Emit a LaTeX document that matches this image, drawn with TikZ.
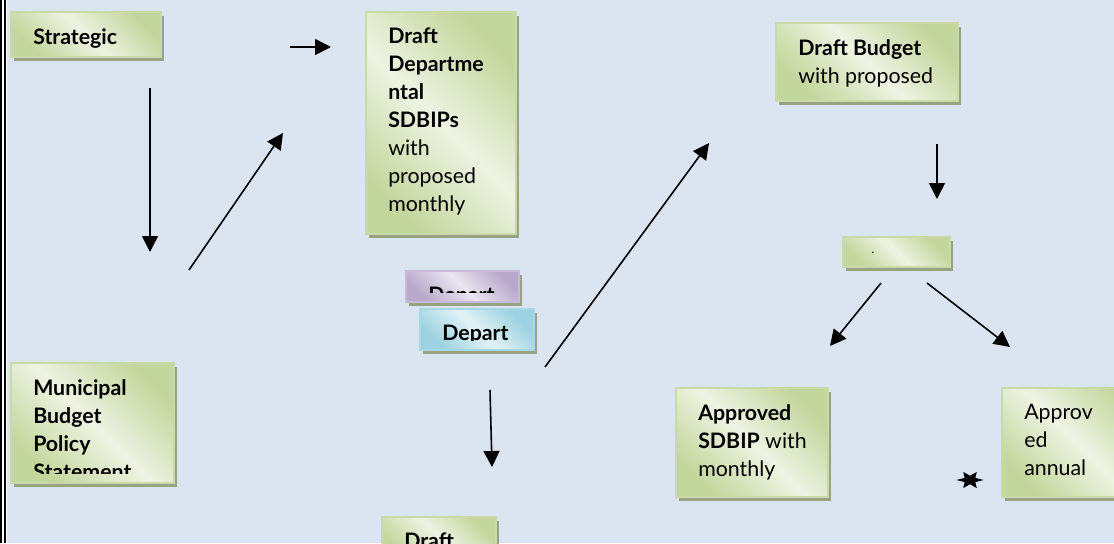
\documentclass[tikz,border=0pt]{standalone}
\usepackage{fontspec}
\setmainfont{Lato}
\usetikzlibrary{arrows.meta, shadows, shapes.geometric}

\definecolor{bgblue}{HTML}{DBE5F1}
\definecolor{gLight}{HTML}{EDF3E2}
\definecolor{gDark}{HTML}{C3D69B}
\definecolor{gEdge}{HTML}{C9DAA8}
\definecolor{pLight}{HTML}{EAE5F0}
\definecolor{pDark}{HTML}{B8A8CB}
\definecolor{pEdge}{HTML}{C8BBD9}
\definecolor{cLight}{HTML}{E2F2F6}
\definecolor{cDark}{HTML}{9BD1E0}
\definecolor{cEdge}{HTML}{A9D8E5}
\definecolor{shadowgreen}{HTML}{97A383}

% text of a box, cut off at the bottom of its text area
\newcommand{\boxlabel}[2]{%
  \begin{scope}
    \clip ([yshift=7.5pt]#1.south west) rectangle (#1.north east);
    \node[boxtext] (#1-text) at ([xshift=16.5pt,yshift=-12pt]#1.north west) {#2};
  \end{scope}}

\tikzset{
  stage/.style={rectangle, anchor=north west, inner sep=0pt, outer sep=0pt,
    draw=gEdge, line width=1.5pt,
    top color=gDark, bottom color=gDark, middle color=gLight, shading angle=-45,
    drop shadow={shadow xshift=2.5pt, shadow yshift=-3pt, fill=shadowgreen, opacity=1}},
  violet stage/.style={stage, draw=pEdge, top color=pDark, bottom color=pDark, middle color=pLight, shading angle=-45},
  cyan stage/.style={stage, draw=cEdge, top color=cDark, bottom color=cDark, middle color=cLight, shading angle=-45},
  boxtext/.style={anchor=north west, inner sep=0pt, align=left},
  flow/.style={-{Triangle[length=12pt,width=12pt]}, line width=1.2pt}
}

\begin{document}
\begin{tikzpicture}[x=0.75pt, y=-0.75pt, font=\fontsize{16}{21}\selectfont]

% page
\useasboundingbox (0,0) rectangle (1114,543);
\fill[bgblue] (0,0) rectangle (1114,543);
\fill[white] (0,0) rectangle (7,543);
\draw[line width=1.5pt] (1.2,0) -- (1.2,543);
\draw[line width=1.5pt] (5.4,0) -- (5.4,543);

% boxes
\node[stage, minimum width=112.5pt, minimum height=33.75pt] (strat) at (11,12) {};
\node[stage, minimum width=112.5pt, minimum height=166.5pt] (deptdraft) at (366,12) {};
\node[stage, minimum width=136.5pt, minimum height=58.5pt] (budgetdraft) at (776,23) {};
\node[stage, minimum width=80.25pt, minimum height=22.5pt] (council) at (843,237) {};
\node[stage, minimum width=122.25pt, minimum height=90pt] (policy) at (11,363) {};
\node[violet stage, minimum width=84.75pt, minimum height=23.25pt] (deptA) at (406,271) {};
\node[cyan stage, minimum width=85.5pt, minimum height=30.75pt] (deptB) at (420,309) {};
\node[stage, minimum width=114pt, minimum height=81.75pt] (sdbip) at (676,388) {};
\node[stage, minimum width=112.5pt, minimum height=81.75pt] (annual) at (1002,388) {};
\node[stage, minimum width=85.5pt, minimum height=30pt] (draftlow) at (382,517) {};

% their texts
\boxlabel{strat}{\textbf{Strategic}}
\boxlabel{deptdraft}{\textbf{Draft}\\\textbf{Departme}\\\textbf{ntal}\\\textbf{SDBIPs}\\with\\proposed\\monthly}
\boxlabel{budgetdraft}{\textbf{Draft Budget}\\with proposed}
\boxlabel{policy}{\textbf{Municipal}\\\textbf{Budget}\\\textbf{Policy}\\\textbf{Statement}}
\boxlabel{deptA}{\textbf{Depart}}
\boxlabel{deptB}{\textbf{Depart}}
\boxlabel{sdbip}{\textbf{Approved}\\\textbf{SDBIP} with\\monthly}
\boxlabel{annual}{Approv\\ed\\annual}
\boxlabel{draftlow}{\textbf{Draft}}
\node[font=\fontsize{9}{9}\selectfont, inner sep=0pt] (council-text) at ([xshift=22.5pt,yshift=-12pt]council.north west) {.};

% arrow ends
\coordinate (a1s) at (290,47);  \coordinate (a1e) at (331,47);
\coordinate (a2s) at (150,88);  \coordinate (a2e) at (150,252);
\coordinate (a3s) at (189,270); \coordinate (a3e) at (283,133);
\coordinate (a4s) at (545,367); \coordinate (a4e) at (709,143);
\coordinate (a5s) at (937,144); \coordinate (a5e) at (937,199);
\coordinate (a6s) at (881,283); \coordinate (a6e) at (830,346);
\coordinate (a7s) at (927,283); \coordinate (a7e) at (1010,347);
\coordinate (a8s) at (490,390); \coordinate (a8e) at (492,467);

\foreach \a in {a1,a2,a3,a4,a5,a6,a7,a8}
  \draw[flow] (\a s) -- (\a e);

% small star left of the annual box
\node[star, star points=6, star point ratio=2.2, fill=black, inner sep=0pt,
  minimum size=14pt, shape border rotate=90, xscale=1.45] (spark) at (970,480) {};

\end{tikzpicture}
\end{document}
